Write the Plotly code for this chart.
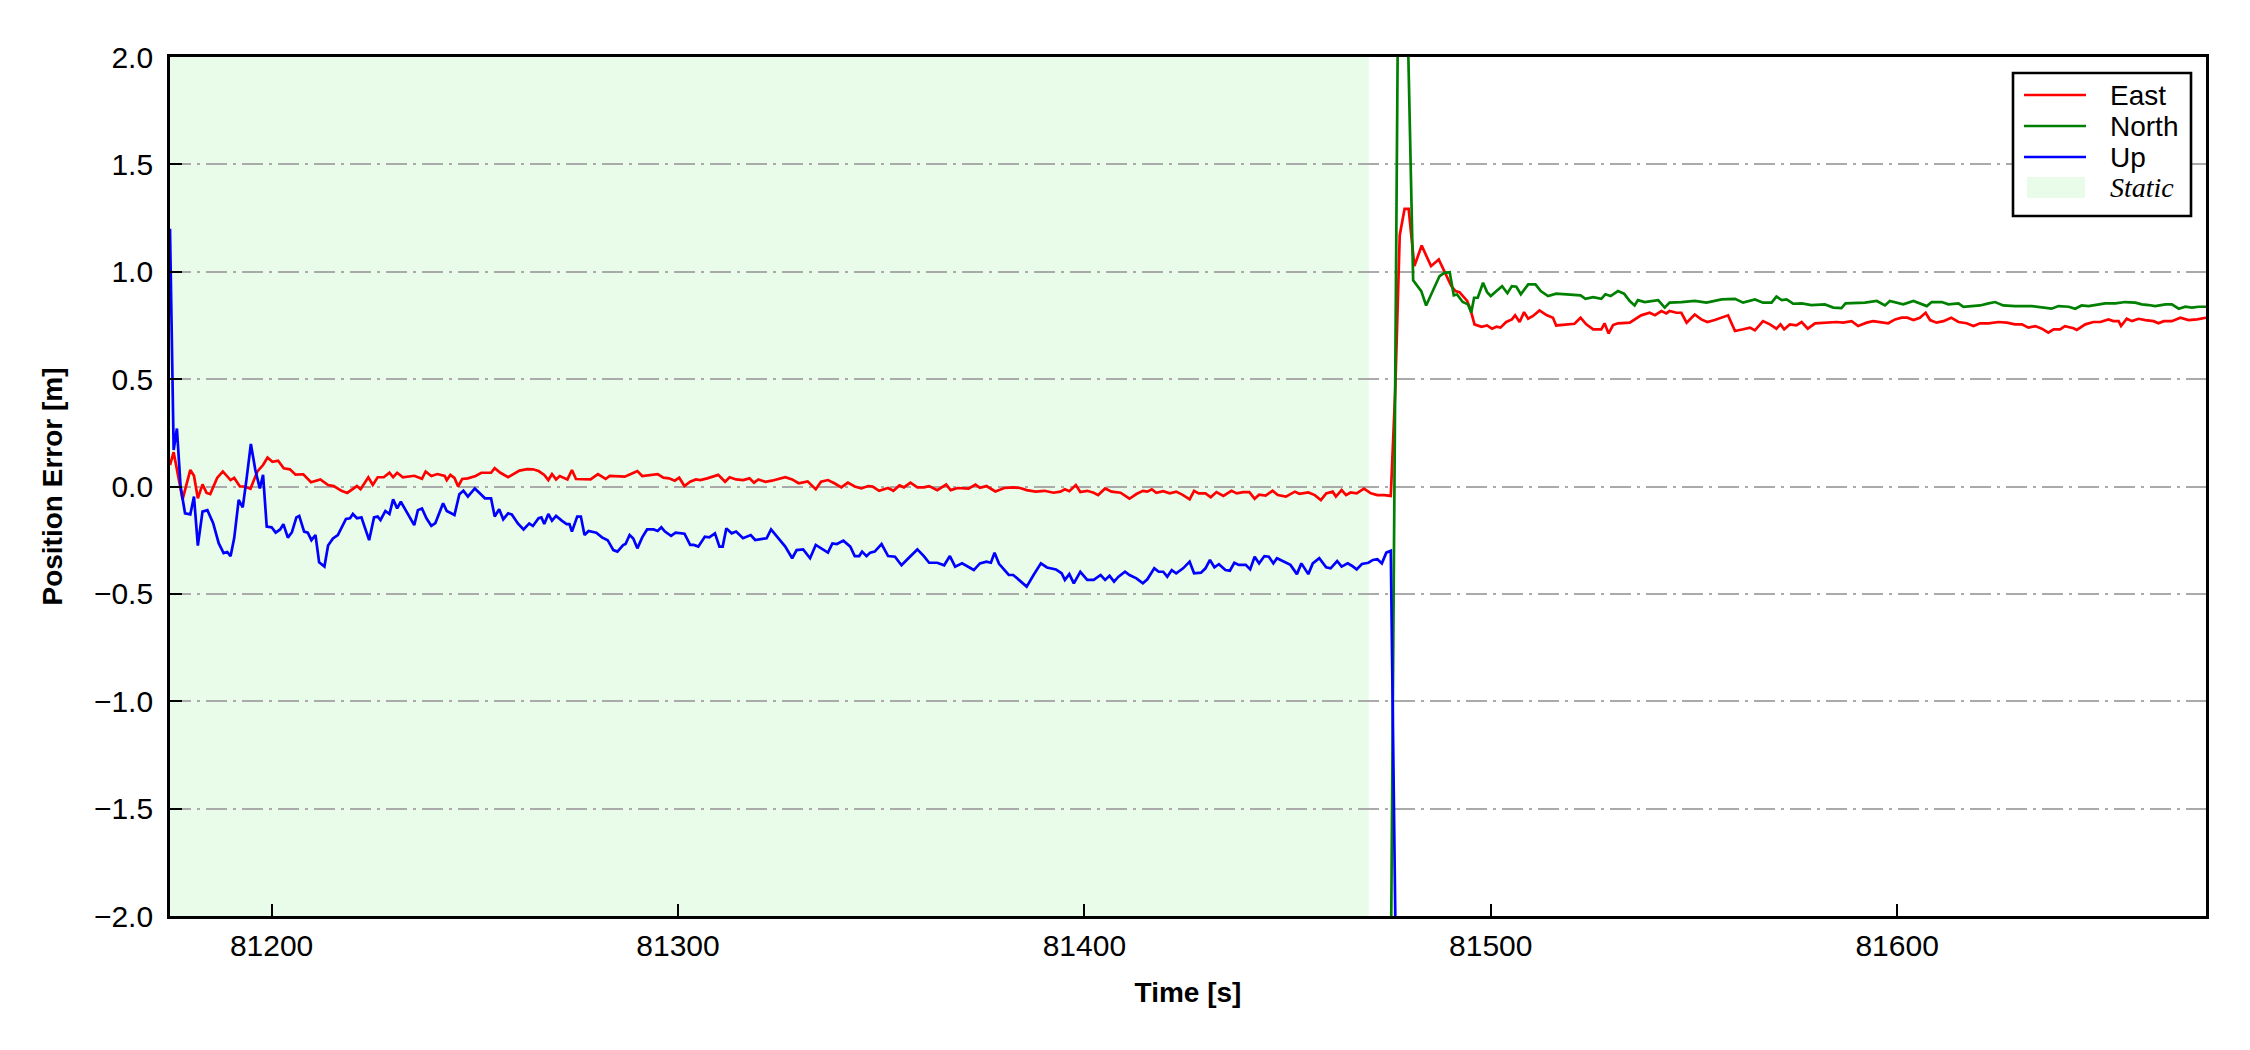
import plotly.graph_objects as go

# ---------------- data ----------------
east_t = [81175.0, 81175.9, 81178.1, 81180.0, 81180.9, 81181.85, 81183.0, 81184.0, 81184.9, 81186.6,
          81188.0, 81189.9, 81190.8, 81192.2, 81193.4, 81194.8, 81196.5, 81197.9, 81199.0, 81200.2,
          81201.6, 81203.0, 81204.5, 81205.9, 81207.8, 81209.7, 81212.0, 81213.9, 81215.3, 81217.2,
          81218.6, 81221.0, 81221.9, 81223.8, 81224.9, 81226.1, 81227.6, 81229.0, 81229.9, 81230.9,
          81232.3, 81235.1, 81237.0, 81237.9, 81239.3, 81240.8, 81242.6, 81243.1, 81244.0, 81245.0,
          81245.9, 81246.9, 81248.3, 81250.2, 81251.6, 81253.0, 81254.0, 81254.9, 81256.3, 81258.2,
          81261.0, 81262.9, 81264.3, 81265.7, 81267.1, 81268.1, 81269.0, 81270.0, 81270.9, 81272.8,
          81273.9, 81274.9, 81278.5, 81280.3, 81282.2, 81283.2, 81286.9, 81288.4, 81290.0, 81291.2,
          81295.0, 81296.4, 81297.8, 81299.2, 81300.3, 81301.6, 81303.0, 81304.4, 81305.5, 81307.2,
          81309.9, 81311.6, 81312.7, 81314.3, 81316.0, 81317.6, 81318.7, 81319.8, 81321.5, 81323.1,
          81324.8, 81326.4, 81328.1, 81329.7, 81331.9, 81333.9, 81335.2, 81336.9, 81338.5, 81340.2,
          81341.8, 81343.5, 81345.1, 81346.8, 81347.9, 81349.5, 81351.7, 81353.0, 81354.5, 81355.6,
          81357.2, 81358.9, 81360.5, 81361.8, 81363.8, 81366.0, 81367.1, 81368.8, 81371.5, 81373.2,
          81374.3, 81375.9, 81378.1, 81380.3, 81382.5, 81384.2, 81385.8, 81388.0, 81390.2, 81392.4,
          81394.1, 81395.2, 81396.3, 81397.9, 81399.0, 81400.7, 81402.3, 81403.4, 81405.1, 81406.7,
          81408.9, 81411.1, 81412.8, 81414.4, 81415.5, 81416.6, 81417.7, 81419.4, 81421.0, 81422.6,
          81424.3, 81425.9, 81427.0, 81428.1, 81429.8, 81431.1, 81432.5, 81434.2, 81436.2, 81437.5,
          81439.1, 81440.6, 81441.9, 81443.0, 81444.6, 81446.3, 81447.6, 81449.6, 81451.8, 81452.9,
          81455.1, 81456.7, 81458.2, 81459.5, 81461.1, 81461.9, 81463.3, 81464.4, 81465.5, 81467.0,
          81468.8, 81470.5, 81472.1, 81473.8, 81475.4, 81476.5, 81477.6, 81478.8, 81479.8, 81481.2,
          81483.0, 81485.3, 81487.2, 81488.6, 81490.3, 81491.3, 81492.3, 81494.2, 81495.0, 81496.0,
          81497.7, 81499.1, 81500.3, 81501.4, 81502.4, 81503.8, 81505.2, 81506.0, 81507.1, 81508.2,
          81509.2, 81510.4, 81512.0, 81513.7, 81515.3, 81516.1, 81517.8, 81520.6, 81522.1, 81523.5,
          81525.2, 81527.2, 81528.0, 81529.0, 81530.1, 81531.3, 81534.2, 81535.8, 81537.0, 81539.1,
          81540.4, 81542.0, 81543.2, 81544.0, 81545.7, 81546.9, 81548.2, 81550.2, 81551.8, 81553.3,
          81555.1, 81558.4, 81560.1, 81562.1, 81563.8, 81565.0, 81567.0, 81568.7, 81570.3, 81571.3,
          81572.2, 81573.6, 81575.2, 81576.5, 81578.0, 81579.8, 81582.2, 81583.9, 81585.1, 81586.7,
          81588.8, 81590.4, 81592.5, 81594.1, 81596.2, 81597.8, 81599.5, 81601.1, 81602.5, 81604.0,
          81605.6, 81607.0, 81608.1, 81609.7, 81611.4, 81613.3, 81615.1, 81617.1, 81618.8, 81620.4,
          81622.5, 81624.9, 81627.0, 81629.0, 81630.7, 81632.3, 81634.0, 81635.6, 81637.2, 81638.5,
          81640.1, 81641.3, 81643.4, 81644.2, 81646.3, 81648.3, 81650.0, 81652.0, 81653.2, 81654.5,
          81655.1, 81656.5, 81657.8, 81659.4, 81661.1, 81663.1, 81664.3, 81665.6, 81667.6, 81669.7,
          81671.7, 81673.8, 81676.0]
east_v = [0.10, 0.16, -0.06, 0.077, 0.05, -0.055, 0.01, -0.03, -0.035, 0.04,
          0.07, 0.03, 0.04, 0.0, 0.0, -0.01, 0.07, 0.10, 0.135, 0.115,
          0.12, 0.085, 0.08, 0.055, 0.057, 0.02, 0.033, 0.007, 0.002, -0.02,
          -0.03, 0.002, -0.013, 0.043, 0.007, 0.043, 0.043, 0.064, 0.043, 0.064,
          0.043, 0.05, 0.036, 0.07, 0.049, 0.058, 0.049, 0.03, 0.054, 0.04,
          0.0, 0.035, 0.038, 0.049, 0.064, 0.064, 0.064, 0.085, 0.064, 0.043,
          0.074, 0.081, 0.08, 0.072, 0.054, 0.03, 0.058, 0.033, 0.049, 0.033,
          0.077, 0.035, 0.033, 0.058, 0.035, 0.049, 0.046, 0.058, 0.072, 0.049,
          0.058, 0.041, 0.038, 0.027, 0.041, 0.002, 0.022, 0.033, 0.03, 0.038,
          0.054, 0.022, 0.043, 0.033, 0.03, 0.038, 0.018, 0.033, 0.022, 0.027,
          0.036, 0.043, 0.033, 0.015, 0.024, -0.013, 0.022, 0.03, 0.015, -0.004,
          0.018, 0.0, -0.009, 0.002, 0.0, -0.02, -0.007, -0.02, 0.005, -0.004,
          0.018, -0.004, -0.004, 0.002, -0.017, 0.009, -0.017, -0.007, -0.01, 0.009,
          -0.006, 0.002, -0.023, -0.007, -0.004, -0.007, -0.017, -0.024, -0.02, -0.029,
          -0.024, -0.013, -0.022, 0.007, -0.026, -0.02, -0.029, -0.04, -0.009, -0.024,
          -0.029, -0.057, -0.035, -0.02, -0.024, -0.013, -0.029, -0.022, -0.032, -0.024,
          -0.04, -0.06, -0.02, -0.032, -0.032, -0.05, -0.026, -0.044, -0.02, -0.032,
          -0.026, -0.026, -0.057, -0.038, -0.042, -0.02, -0.04, -0.047, -0.024, -0.034,
          -0.028, -0.04, -0.063, -0.032, -0.024, -0.047, -0.017, -0.04, -0.028, -0.032,
          -0.01, -0.032, -0.04, -0.04, -0.044, 0.45, 1.17, 1.293, 1.293, 1.026,
          1.122, 1.026, 1.057, 1.003, 0.933, 0.91, 0.905, 0.864, 0.825, 0.755,
          0.744, 0.75, 0.735, 0.744, 0.74, 0.766, 0.778, 0.797, 0.766, 0.812,
          0.781, 0.794, 0.82, 0.798, 0.786, 0.75, 0.752, 0.758, 0.786, 0.755,
          0.732, 0.732, 0.76, 0.713, 0.752, 0.76, 0.763, 0.781, 0.797, 0.809,
          0.798, 0.817, 0.806, 0.817, 0.809, 0.809, 0.763, 0.801, 0.778, 0.766,
          0.775, 0.797, 0.724, 0.732, 0.74, 0.727, 0.77, 0.755, 0.735, 0.755,
          0.732, 0.755, 0.75, 0.766, 0.735, 0.76, 0.763, 0.763, 0.766, 0.763,
          0.77, 0.747, 0.763, 0.77, 0.763, 0.76, 0.778, 0.786, 0.786, 0.775,
          0.786, 0.809, 0.775, 0.763, 0.77, 0.786, 0.766, 0.76, 0.747, 0.76,
          0.76, 0.766, 0.763, 0.755, 0.755, 0.74, 0.747, 0.735, 0.716, 0.732,
          0.732, 0.747, 0.737, 0.729, 0.755, 0.766, 0.766, 0.778, 0.77, 0.77,
          0.747, 0.781, 0.77, 0.781, 0.775, 0.77, 0.76, 0.77, 0.77, 0.786,
          0.775, 0.778, 0.786]

north_t = [81475.4, 81477.2, 81478.5, 81479.5, 81480.9, 81482.9, 81484.1, 81485.8, 81487.4, 81488.6,
           81489.9, 81490.9, 81491.7, 81493.1, 81494.4, 81495.2, 81495.9, 81496.8, 81498.1, 81499.1,
           81500.0, 81501.4, 81502.8, 81504.1, 81505.2, 81506.3, 81507.4, 81509.2, 81511.0, 81512.3,
           81514.1, 81516.1, 81519.0, 81522.1, 81523.3, 81525.2, 81527.2, 81528.2, 81529.5, 81531.3,
           81532.8, 81534.2, 81535.4, 81536.2, 81537.9, 81541.2, 81542.8, 81544.0, 81546.9, 81550.2,
           81553.1, 81556.8, 81560.1, 81562.1, 81565.0, 81567.0, 81569.1, 81570.3, 81571.6, 81572.8,
           81574.4, 81576.5, 81578.9, 81582.2, 81584.3, 81586.3, 81587.3, 81588.8, 81592.1, 81595.0,
           81597.0, 81598.2, 81600.3, 81601.5, 81604.0, 81605.6, 81607.3, 81608.5, 81611.0, 81612.6,
           81615.1, 81616.3, 81618.3, 81620.4, 81622.5, 81624.1, 81626.1, 81629.0, 81633.1, 81635.6,
           81638.0, 81639.7, 81642.2, 81643.8, 81645.4, 81647.1, 81649.1, 81651.2, 81653.7, 81656.1,
           81658.6, 81660.2, 81661.9, 81663.5, 81666.0, 81667.6, 81669.3, 81670.9, 81672.5, 81674.2,
           81676.0]
north_v = [-2.3, 2.3, 2.5, 2.2, 0.96, 0.91, 0.843, 0.918, 0.98, 0.995,
           0.998, 0.89, 0.894, 0.859, 0.848, 0.81, 0.879, 0.879, 0.949, 0.905,
           0.887, 0.91, 0.933, 0.90, 0.933, 0.93, 0.895, 0.941, 0.941, 0.91,
           0.887, 0.898, 0.895, 0.89, 0.874, 0.882, 0.874, 0.895, 0.887, 0.91,
           0.898, 0.864, 0.843, 0.868, 0.859, 0.868, 0.833, 0.856, 0.859, 0.864,
           0.856, 0.871, 0.874, 0.856, 0.871, 0.856, 0.856, 0.884, 0.868, 0.871,
           0.851, 0.853, 0.845, 0.848, 0.833, 0.831, 0.853, 0.853, 0.856, 0.864,
           0.843, 0.864, 0.853, 0.848, 0.864, 0.853, 0.84, 0.859, 0.859, 0.848,
           0.853, 0.837, 0.84, 0.843, 0.853, 0.859, 0.843, 0.84, 0.84, 0.833,
           0.828, 0.84, 0.837, 0.828, 0.843, 0.84, 0.848, 0.853, 0.853, 0.859,
           0.856, 0.848, 0.845, 0.84, 0.848, 0.848, 0.828, 0.837, 0.833, 0.837,
           0.837]

up_t = [81175.0, 81175.9, 81176.7, 81177.6, 81178.7, 81180.0, 81180.9, 81181.85, 81183.0, 81184.2,
        81185.6, 81187.0, 81188.2, 81189.1, 81189.9, 81190.8, 81191.9, 81192.9, 81193.8, 81194.9,
        81196.0, 81197.1, 81197.9, 81198.8, 81200.0, 81201.0, 81202.1, 81202.9, 81204.0, 81205.0,
        81206.1, 81206.8, 81208.0, 81208.9, 81209.8, 81210.8, 81211.7, 81213.0, 81213.9, 81215.1,
        81216.3, 81217.2, 81218.3, 81219.3, 81220.0, 81221.0, 81222.1, 81224.0, 81225.2, 81226.1,
        81226.8, 81228.0, 81229.0, 81229.9, 81230.9, 81231.8, 81233.2, 81235.1, 81236.0, 81237.0,
        81238.1, 81239.3, 81240.3, 81242.2, 81243.1, 81245.0, 81246.2, 81247.2, 81248.3, 81250.0,
        81251.1, 81252.5, 81254.0, 81254.9, 81256.0, 81257.0, 81258.2, 81259.1, 81260.6, 81262.0,
        81263.4, 81264.3, 81265.7, 81266.4, 81267.1, 81268.1, 81269.0, 81270.0, 81271.4, 81272.6,
        81273.3, 81273.9, 81275.2, 81276.1, 81277.0, 81278.0, 81279.9, 81281.3, 81282.7, 81284.1,
        81285.1, 81286.5, 81287.1, 81288.1, 81289.0, 81290.0, 81291.2, 81292.4, 81294.0, 81295.0,
        81295.9, 81296.8, 81298.3, 81299.4, 81301.6, 81303.0, 81303.9, 81305.0, 81306.6, 81307.7,
        81309.1, 81310.2, 81311.0, 81311.9, 81313.2, 81314.3, 81316.0, 81317.9, 81319.0, 81321.8,
        81322.9, 81324.8, 81326.4, 81328.1, 81329.2, 81330.8, 81332.5, 81333.9, 81335.2, 81336.9,
        81338.0, 81339.1, 81340.7, 81342.4, 81343.5, 81344.6, 81345.3, 81346.4, 81347.3, 81348.4,
        81350.1, 81351.7, 81353.4, 81355.0, 81356.7, 81358.9, 81360.5, 81361.8, 81363.8, 81365.5,
        81366.9, 81368.2, 81369.9, 81371.5, 81372.8, 81374.3, 81375.9, 81377.0, 81377.9, 81379.0,
        81380.3, 81381.4, 81382.5, 81383.8, 81385.8, 81387.5, 81389.3, 81390.8, 81393.0, 81394.4,
        81395.2, 81396.3, 81397.4, 81399.0, 81400.7, 81402.3, 81404.0, 81405.1, 81406.2, 81407.3,
        81408.4, 81410.0, 81411.1, 81412.8, 81414.4, 81415.5, 81417.2, 81418.3, 81419.4, 81420.4,
        81421.5, 81422.6, 81424.3, 81425.9, 81427.0, 81428.7, 81429.8, 81430.9, 81432.0, 81433.1,
        81434.7, 81435.8, 81436.9, 81438.0, 81439.7, 81440.8, 81441.9, 81443.0, 81444.3, 81445.4,
        81446.5, 81447.4, 81449.0, 81450.7, 81452.3, 81453.4, 81455.1, 81456.2, 81457.8, 81459.5,
        81460.6, 81462.2, 81463.3, 81464.8, 81465.9, 81467.0, 81468.3, 81469.9, 81471.0, 81472.1,
        81473.2, 81474.3, 81475.4, 81476.7]
up_v = [1.2, 0.17, 0.27, 0.0, -0.125, -0.13, -0.047, -0.275, -0.117, -0.11,
        -0.17, -0.265, -0.31, -0.305, -0.325, -0.24, -0.063, -0.097, 0.03, 0.198,
        0.077, -0.009, 0.054, -0.187, -0.19, -0.215, -0.2, -0.175, -0.238, -0.213,
        -0.144, -0.137, -0.21, -0.215, -0.25, -0.226, -0.353, -0.373, -0.275, -0.242,
        -0.226, -0.19, -0.151, -0.148, -0.128, -0.148, -0.144, -0.25, -0.144, -0.14,
        -0.156, -0.114, -0.128, -0.06, -0.102, -0.071, -0.117, -0.18, -0.11, -0.102,
        -0.148, -0.183, -0.17, -0.078, -0.114, -0.133, -0.036, -0.02, -0.047, -0.009,
        -0.029, -0.055, -0.055, -0.14, -0.106, -0.153, -0.125, -0.13, -0.172, -0.2,
        -0.172, -0.184, -0.148, -0.144, -0.175, -0.128, -0.159, -0.137, -0.159, -0.175,
        -0.175, -0.21, -0.14, -0.14, -0.226, -0.207, -0.215, -0.237, -0.25, -0.296,
        -0.303, -0.273, -0.268, -0.226, -0.242, -0.288, -0.237, -0.2, -0.2, -0.207,
        -0.19, -0.21, -0.23, -0.215, -0.22, -0.272, -0.272, -0.28, -0.234, -0.237,
        -0.218, -0.28, -0.28, -0.195, -0.218, -0.21, -0.241, -0.226, -0.249, -0.241,
        -0.2, -0.246, -0.28, -0.334, -0.296, -0.293, -0.334, -0.272, -0.288, -0.308,
        -0.265, -0.268, -0.252, -0.28, -0.324, -0.324, -0.303, -0.324, -0.308, -0.303,
        -0.268, -0.324, -0.327, -0.367, -0.334, -0.293, -0.324, -0.355, -0.355, -0.367,
        -0.324, -0.373, -0.358, -0.373, -0.389, -0.358, -0.35, -0.355, -0.308, -0.36,
        -0.386, -0.412, -0.412, -0.435, -0.466, -0.412, -0.358, -0.377, -0.386, -0.404,
        -0.435, -0.408, -0.451, -0.397, -0.435, -0.435, -0.412, -0.435, -0.416, -0.443,
        -0.42, -0.397, -0.412, -0.428, -0.451, -0.432, -0.381, -0.397, -0.397, -0.42,
        -0.389, -0.404, -0.381, -0.35, -0.404, -0.401, -0.381, -0.342, -0.376, -0.362,
        -0.389, -0.392, -0.355, -0.365, -0.365, -0.386, -0.327, -0.358, -0.324, -0.327,
        -0.358, -0.334, -0.35, -0.365, -0.408, -0.358, -0.408, -0.358, -0.334, -0.376,
        -0.381, -0.347, -0.373, -0.358, -0.37, -0.386, -0.361, -0.355, -0.342, -0.339,
        -0.358, -0.308, -0.299, -2.3]

static_start = 81175.0
static_end = 81470.0

x_range = [81175.0, 81676.0]
y_range = [-2.0, 2.0]
x_ticks = [81200, 81300, 81400, 81500, 81600]
y_ticks = [-2.0, -1.5, -1.0, -0.5, 0.0, 0.5, 1.0, 1.5, 2.0]

series_names = ["East", "North", "Up"]
series_colors = ["#ff0000", "#008000", "#0000ff"]
static_label = "Static"
static_color = "rgba(144,238,144,0.2)"

# ---------------- figure ----------------
# page has an 8px body margin; figure sized so the plot box lands where the reference has it
OFF = 8
W, H = 2250 - OFF, 1050 - OFF
ML, MR, MT, MB = 170 - OFF, 44, 57 - OFF, 134
PW, PH = W - ML - MR, H - MT - MB
FONT = "Liberation Sans, Arial, sans-serif"

fig = go.Figure()
for name, color, t, v in zip(series_names, series_colors,
                             [east_t, north_t, up_t], [east_v, north_v, up_v]):
    fig.add_trace(go.Scatter(x=t, y=v, mode="lines", name=name,
                             line=dict(color=color, width=2.7), showlegend=False))

fig.add_shape(type="rect", xref="x", yref="paper", x0=static_start, x1=static_end,
              y0=0, y1=1, fillcolor=static_color, line=dict(width=0), layer="below")


# legend positions given in page pixels of the reference
def px_x(X):
    return (X - OFF - ML) / PW


def px_y(Y):
    return (MT + PH - (Y - OFF)) / PH


fig.add_shape(type="rect", xref="paper", yref="paper",
              x0=px_x(2013), x1=px_x(2191), y0=px_y(216), y1=px_y(73),
              fillcolor="white", line=dict(color="black", width=2.6), layer="above")
legend_rows = [95, 126, 157]
for name, color, yy in zip(series_names, series_colors, legend_rows):
    fig.add_shape(type="line", xref="paper", yref="paper",
                  x0=px_x(2024), x1=px_x(2086), y0=px_y(yy), y1=px_y(yy),
                  line=dict(color=color, width=2.7), layer="above")
    fig.add_annotation(xref="paper", yref="paper", x=px_x(2108), y=px_y(yy),
                       text=name, showarrow=False, xanchor="left", yanchor="middle",
                       font=dict(family=FONT, size=28, color="black"))
fig.add_shape(type="rect", xref="paper", yref="paper",
              x0=px_x(2027), x1=px_x(2085), y0=px_y(198), y1=px_y(177),
              fillcolor=static_color, line=dict(width=0), layer="above")
fig.add_annotation(xref="paper", yref="paper", x=px_x(2108), y=px_y(188),
                   text="<i>" + static_label + "</i>", showarrow=False,
                   xanchor="left", yanchor="middle",
                   font=dict(family="Liberation Serif, Times New Roman, serif", size=28, color="black"))

axis_common = dict(showline=True, linecolor="black", linewidth=2.7, mirror=True,
                   ticks="inside", ticklen=12, tickwidth=2, tickcolor="black",
                   tickfont=dict(family=FONT, size=30, color="black"),
                   zeroline=False)

fig.update_xaxes(range=x_range, tickvals=x_ticks, tickformat="d", showgrid=False,
                 ticklabelstandoff=1,
                 title=dict(text="Time [s]", standoff=22,
                            font=dict(family=FONT, size=28, color="black", weight="bold")),
                 **axis_common)
fig.update_yaxes(range=y_range, tickvals=y_ticks, tickformat=".1f", showgrid=True,
                 gridcolor="#aaaaaa", gridwidth=2, griddash="21px,6px,3px,6px",
                 ticklabelstandoff=8,
                 title=dict(text="Position Error [m]", standoff=24,
                            font=dict(family=FONT, size=28, color="black", weight="bold")),
                 **axis_common)

fig.update_layout(width=W, height=H, margin=dict(l=ML, r=MR, t=MT, b=MB, autoexpand=False),
                  paper_bgcolor="white", plot_bgcolor="white",
                  font=dict(family=FONT, color="black"), showlegend=False)

fig.write_html("out.html")
